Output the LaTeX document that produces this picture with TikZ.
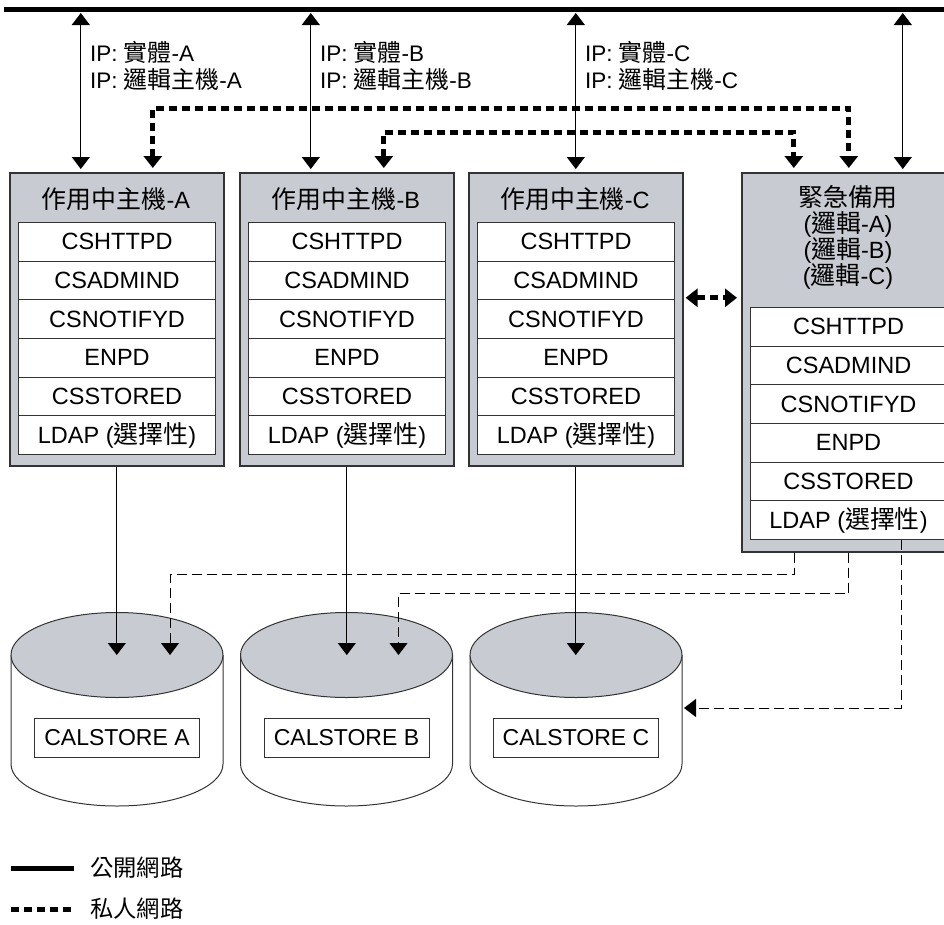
\documentclass[tikz,border=0pt]{standalone}
\usepackage{fontspec}
\setmainfont{Liberation Sans}
\newfontfamily\tcfont[Scale=1.06]{Noto Sans CJK TC}
\newcommand{\hz}[1]{{\tcfont #1}}
\usetikzlibrary{arrows.meta}
\definecolor{boxgray}{RGB}{200,203,210}

\tikzset{
  hostbox/.style={draw=black!80, line width=1.6pt, fill=boxgray, minimum width=214pt, anchor=north west, inner sep=0pt},
  svcrow/.style={draw=black!80, line width=1.1pt, fill=white, minimum width=197pt, minimum height=38.67pt, anchor=north west, inner sep=0pt, font=\fontsize{23.5}{26}\selectfont},
  hosttitle/.style={inner sep=0pt, align=center, font=\fontsize{23.5}{26}\selectfont},
  iplabel/.style={anchor=west, inner sep=0pt, align=left, font=\fontsize{22.5}{27}\selectfont},
  storelabel/.style={draw=black!80, line width=1pt, fill=white, minimum width=165pt, minimum height=39pt, inner sep=0pt, font=\fontsize{23}{26}\selectfont},
  legendtext/.style={anchor=west, inner sep=0pt, font=\fontsize{22}{26}\selectfont},
  pubnet/.style={line width=5pt},
  pubarrow/.style={<->, line width=1.2pt, shorten <=4pt, shorten >=3pt},
  privnet/.style={line width=5pt, dash pattern=on 8pt off 5pt},
  link/.style={->, line width=1pt},
  storlink/.style={->, line width=1pt, dash pattern=on 10pt off 5pt},
  cyl/.style={draw=black!80, line width=1pt}
}

\begin{document}
\begin{tikzpicture}[x=1pt, y=-1pt, >={Triangle[width=18pt,length=12pt]}]
\clip (0,0) rectangle (944,924);

% public network
\coordinate (bus) at (0,9);
\draw[pubnet] (4,9) -- (944,9);

% active hosts
\foreach \h/\hx in {A/9,B/239,C/468}{
  \node[hostbox, minimum height=293pt] (host\h) at (\hx,172) {};
  \node[hosttitle] at ({\hx+107},199) {\hz{作用中主機}-\h};
  \foreach \s [count=\i] in {CSHTTPD,CSADMIND,CSNOTIFYD,ENPD,CSSTORED,{LDAP (\hz{選擇性})}}
    \node[svcrow] (svc\h\i) at ({\hx+9},{222+38.67*(\i-1)}) {\s};
}

% standby host
\node[hostbox, minimum height=379pt] (backup) at (741,172) {};
\node[hosttitle] at (848,237.5) {\hz{緊急備用}\\(\hz{邏輯}-A)\\(\hz{邏輯}-B)\\(\hz{邏輯}-C)};
\foreach \s [count=\i] in {CSHTTPD,CSADMIND,CSNOTIFYD,ENPD,CSSTORED,{LDAP (\hz{選擇性})}}
  \node[svcrow] (bk\i) at (749.5,{307+38.67*(\i-1)}) {\s};

% IP labels
\node[iplabel] (ipA) at (90,66) {IP: \hz{實體}-A\\IP: \hz{邏輯主機}-A};
\node[iplabel] (ipB) at (320,66) {IP: \hz{實體}-B\\IP: \hz{邏輯主機}-B};
\node[iplabel] (ipC) at (585,66) {IP: \hz{實體}-C\\IP: \hz{邏輯主機}-C};

% links to the public network
\coordinate (upA) at ([xshift=-36pt]hostA.north);
\coordinate (upB) at ([xshift=-36pt]hostB.north);
\coordinate (upC) at (hostC.north);
\coordinate (upS) at ([xshift=54pt]backup.north);
\foreach \u in {upA,upB,upC,upS}
  \draw[pubarrow] (\u |- bus) -- (\u);

% private network
\draw[privnet, <->, shorten <=4pt, shorten >=4pt] ([xshift=36pt]hostA.north) -- ++(0,-64) -| (backup.north);
\draw[privnet, <->, shorten <=4pt, shorten >=4pt] ([xshift=37pt]hostB.north) -- ++(0,-40) -| ([xshift=-55pt]backup.north);
\coordinate (midC) at ([yshift=21.5pt]hostC.east);
\draw[privnet, <->, shorten <=2pt, shorten >=4pt] (midC) -- (midC -| backup.west);

% calendar stores
\foreach \n/\cx in {A/117,B/346.5,C/576}{
  \draw[cyl, fill=white] ({\cx-106},655) -- ({\cx-106},764) arc[start angle=180, end angle=0, x radius=106, y radius=42] -- ({\cx+106},655);
  \draw[cyl, fill=boxgray] (\cx,655) ellipse[x radius=106, y radius=42.5];
  \node[storelabel] (store\n) at (\cx,737.5) {CALSTORE \n};
  \coordinate (db\n) at (\cx,655);
}

% host to store
\draw[link] (hostA.south) -- (hostA.south |- dbA);
\draw[link] (hostB.south) -- (hostB.south |- dbB);
\draw[link] (hostC.south) -- (hostC.south |- dbC);

% standby to stores
\coordinate (sideC) at (684,708);
\draw[storlink] ([xshift=-54pt]backup.south) -- ++(0,22) -| ([xshift=53pt]dbA);
\draw[storlink] (backup.south) -- ++(0,41) -| ([xshift=52pt]dbB);
\draw[storlink] ([xshift=53pt]bk6.south) |- (sideC);

% legend
\node[legendtext] (legpub) at (90,868) {\hz{公開網路}};
\node[legendtext] (legpriv) at (90,909) {\hz{私人網路}};
\draw[pubnet] ([xshift=-79pt]legpub.west) -- ++(63,0);
\draw[privnet] ([xshift=-79pt]legpriv.west) -- ++(63,0);
\end{tikzpicture}
\end{document}
